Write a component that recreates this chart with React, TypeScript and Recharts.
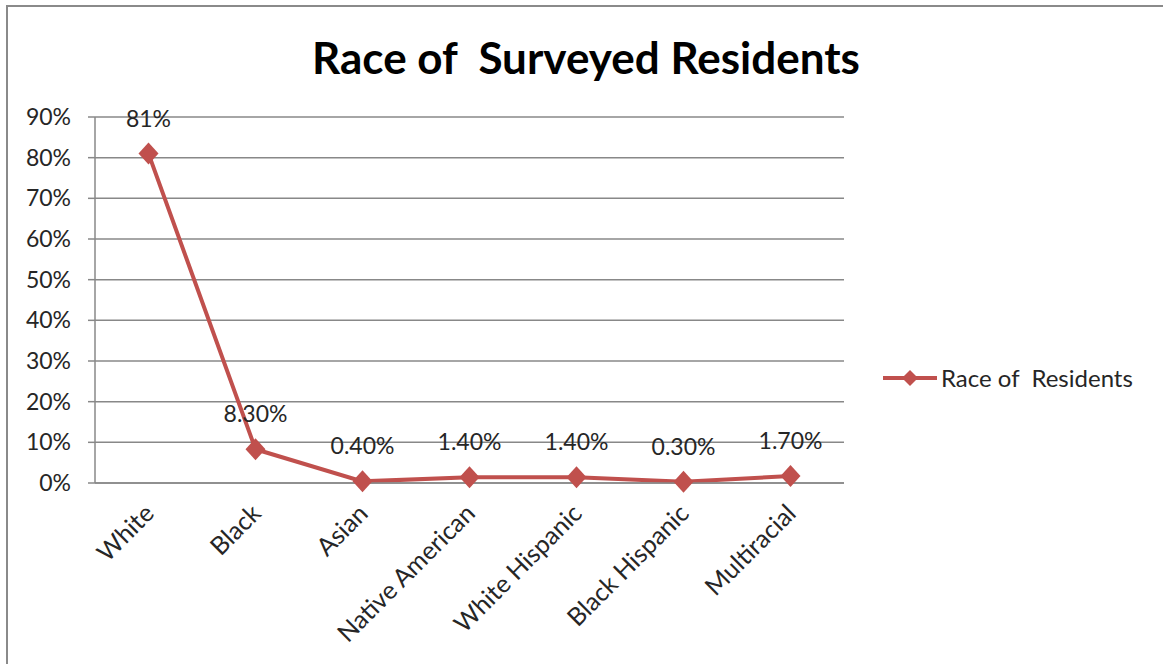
import { LineChart, Line, XAxis, YAxis, CartesianGrid, LabelList } from 'recharts'

// survey breakdown, one point per race category
const categories = ['White', 'Black', 'Asian', 'Native American', 'White Hispanic', 'Black Hispanic', 'Multiracial']
const shares = [0.81, 0.083, 0.004, 0.014, 0.014, 0.003, 0.017]
const shareLabels = ['81%', '8.30%', '0.40%', '1.40%', '1.40%', '0.30%', '1.70%']
const yTicks = [0, 0.1, 0.2, 0.3, 0.4, 0.5, 0.6, 0.7, 0.8, 0.9]
const slotCenters = [0.5, 1.5, 2.5, 3.5, 4.5, 5.5, 6.5]
const slotEdges = [0, 1, 2, 3, 4, 5, 6, 7]
const seriesName = 'Race of  Residents'

const data = categories.map((name, i) => ({ name, slot: slotCenters[i], share: shares[i], label: shareLabels[i] }))

const RED = '#C0504D'
const GRID = '#888888'
const INK = '#262626'
const FONT = 'Lato, "Open Sans", sans-serif'
const SMALL = 23

const Diamond = (props: any) => {
  const { cx, cy, index } = props
  if (cx == null || cy == null) return null
  return (
    <path key={`d-${index}`}
      d={`M${cx},${cy - 11}L${cx + 10},${cy}L${cx},${cy + 11}L${cx - 10},${cy}Z`}
      fill={RED} />
  )
}

const ValueLabel = (props: any) => {
  const { x, y, value } = props
  return (
    <text x={x} y={y - 36} textAnchor="middle" dominantBaseline="central"
      fontSize={SMALL} fill={INK} fontFamily={FONT}>{value}</text>
  )
}

// rotated category name, anchored just right of the slot centre
const CategoryTick = (props: any) => {
  const { x, payload } = props
  const ax = x + 7
  const ay = 515
  return (
    <text x={ax} y={ay} transform={`rotate(-45 ${ax} ${ay})`} textAnchor="end"
      fontSize={25} fill={INK} fontFamily={FONT}>
      {categories[Math.floor(payload.value)]}
    </text>
  )
}

export default function App() {
  return (
    <div style={{ position: 'absolute', left: 0, top: 0, width: 1163, height: 664, overflow: 'hidden', background: '#fff' }}>
      <div style={{ position: 'absolute', left: 6, top: 5, width: 1200, height: 700, border: '2px solid #8a8a8a' }} />
      <div style={{
        position: 'absolute', left: 0, top: 30, width: 1172, textAlign: 'center',
        fontFamily: FONT, fontWeight: 700, fontSize: 44, lineHeight: '54px', color: '#000', whiteSpace: 'pre',
      }}>Race of  Surveyed Residents</div>
      <div style={{ position: 'absolute', left: 0, top: 0 }}>
        <LineChart width={1163} height={664} data={data}
          margin={{ top: 117, right: 319, bottom: 61, left: 0 }}>
          <CartesianGrid vertical={false} stroke={GRID} strokeWidth={1.5} />
          <XAxis dataKey="slot" type="number" domain={[0, 7]} ticks={slotCenters} height={120}
            tickLine={false} axisLine={{ stroke: GRID, strokeWidth: 1.5 }} interval={0}
            tick={<CategoryTick />} />
          <XAxis xAxisId="edges" type="number" domain={[0, 7]} ticks={slotEdges} height={0}
            axisLine={false} tickSize={9} tickLine={{ stroke: GRID, strokeWidth: 1.5 }}
            tickFormatter={() => ''} interval={0} />
          <YAxis width={95} domain={[0, 0.9]} ticks={yTicks} tickSize={7} tickMargin={17}
            axisLine={{ stroke: GRID, strokeWidth: 1.5 }} tickLine={{ stroke: GRID, strokeWidth: 1.5 }}
            tickFormatter={(v: number) => `${Math.round(v * 100)}%`}
            tick={{ fontSize: SMALL, fill: INK, fontFamily: FONT }} />
          <Line dataKey="share" name={seriesName} type="linear" stroke={RED} strokeWidth={4}
            dot={Diamond} activeDot={false} isAnimationActive={false}>
            <LabelList dataKey="label" content={<ValueLabel />} />
          </Line>
        </LineChart>
      </div>
      <div style={{
        position: 'absolute', left: 881, top: 366, display: 'flex', alignItems: 'center',
        fontFamily: FONT, fontSize: 24, color: INK, lineHeight: '24px',
      }}>
        <svg width={58} height={20}>
          <line x1={2} y1={10} x2={56} y2={10} stroke={RED} strokeWidth={4} />
          <path d="M29,2L37,10L29,18L21,10Z" fill={RED} />
        </svg>
        <span style={{ whiteSpace: 'pre', marginLeft: 2 }}>{seriesName}</span>
      </div>
    </div>
  )
}
